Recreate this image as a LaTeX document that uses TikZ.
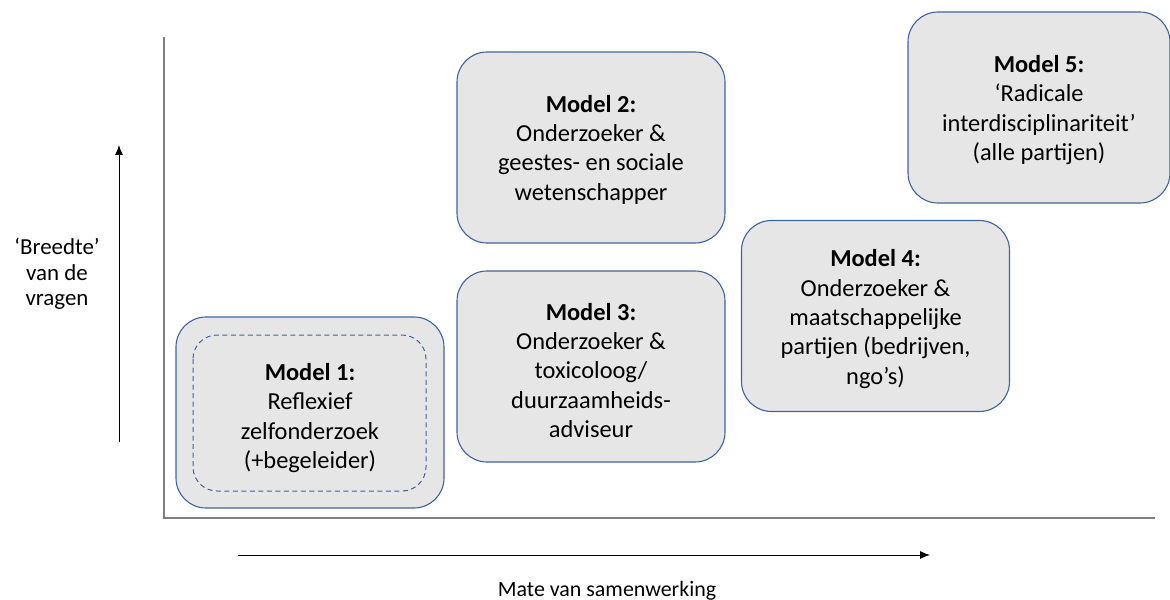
\documentclass[tikz,border=0pt]{standalone}
\usepackage{fontspec}
\setmainfont{Carlito}
\usetikzlibrary{positioning,arrows.meta}
\definecolor{boxfill}{HTML}{E7E6E6}
\definecolor{boxline}{HTML}{41639E}
\definecolor{axisgray}{HTML}{7F7F7F}
\tikzset{
  modelbox/.style={draw=boxline, line width=1.1bp, fill=boxfill, rounded corners=30bp,
    minimum width=268bp, minimum height=191bp, align=center,
    font=\fontsize{24.5}{29.5}\selectfont},
  modeltext/.style={align=center, font=\fontsize{24.5}{29.5}\selectfont},
  innerbox/.style={draw=boxline, line width=1bp, dash pattern=on 5bp off 3.5bp, rounded corners=24bp}
}
\begin{document}
\begin{tikzpicture}[x=1bp,y=-1bp]
        \useasboundingbox (0,0) rectangle (1170,600);
        \coordinate (O) at (164,518);
        \coordinate (ytop) at (164,37);
        \coordinate (xend) at (1155,518);
        \draw [axisgray, line width=1.2bp] (ytop) -- (O) -- (xend);
        \coordinate (up0) at (119,442);
        \coordinate (up1) at (119,145);
        \coordinate (rt0) at (238,555);
        \coordinate (rt1) at (930,555);
        \draw [-{Latex[length=10bp,width=8bp]}, line width=0.9bp] (up0) -- (up1);
        \draw [-{Latex[length=10bp,width=8bp]}, line width=0.9bp] (rt0) -- (rt1);
        \node (ylab) at (57,274) [align=center, font=\fontsize{23}{25.5}\selectfont] {‘Breedte’\\van de\\vragen};
        \node (xlab) at (607,591) [font=\fontsize{22}{24}\selectfont] {Mate van samenwerking};
        \node (m1) at (310,412.5) [modelbox] {};
        \draw [innerbox] (193,335) rectangle (426,491);
        \node (t1) at (310,418) [modeltext] {\textbf{Model 1:}\\Reflexief\\zelfonderzoek\\(+begeleider)};
        \node (m2) at (591,147.5) [modelbox] {};
        \node (t2) at (591,149.5) [modeltext] {\textbf{Model 2:}\\Onderzoeker \&\\geestes- en sociale\\wetenschapper};
        \node (m3) at (591,366.5) [modelbox] {};
        \node (t3) at (591,370.5) [modeltext] {\textbf{Model 3:}\\Onderzoeker \&\\toxicoloog/\\duurzaamheids-\\adviseur};
        \node (m4) at (875.5,316) [modelbox] {};
        \node (t4) at (875.5,319) [modeltext] {\textbf{Model 4:}\\Onderzoeker \&\\maatschappelijke\\partijen (bedrijven,\\ngo’s)};
        \node (m5) at (1039,107.5) [modelbox, minimum width=262bp] {};
        \node (t5) at (1039,110) [modeltext] {\textbf{Model 5:}\\‘Radicale\\interdisciplinariteit’\\(alle partijen)};
\end{tikzpicture}
\end{document}
